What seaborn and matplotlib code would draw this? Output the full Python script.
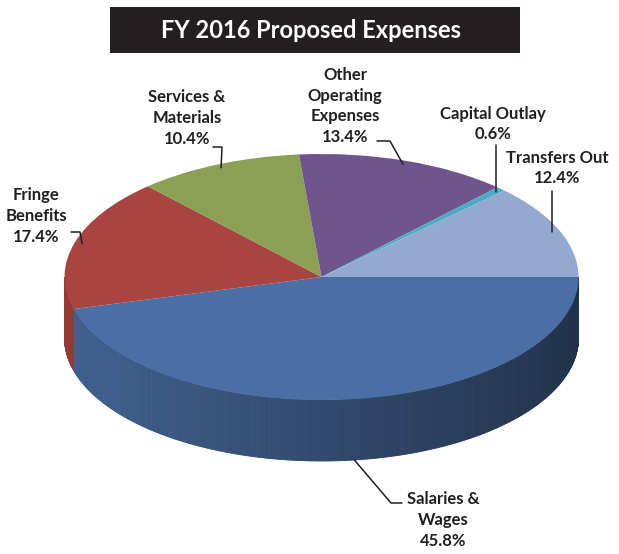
import numpy as np
import matplotlib
matplotlib.use("Agg")
import matplotlib.pyplot as plt
from matplotlib.patches import Rectangle
from matplotlib.colors import to_rgb
import seaborn as sns

# budget shares, clockwise from 3 o'clock
categories = ["Salaries &\nWages", "Fringe\nBenefits", "Services &\nMaterials",
              "Other\nOperating\nExpenses", "Capital Outlay", "Transfers Out"]
shares = [45.8, 17.4, 10.4, 13.4, 0.6, 12.4]
colors = ["#4a6fa5", "#a84442", "#8ba054", "#70558c", "#4bacc6", "#93a9cf"]
title = "FY 2016 Proposed Expenses"

# layout in pixels
W, H = 619, 554
cx, cy, rx, ry, depth = 321.5, 277, 257, 123, 61
# label centre, and leader line points (text end, elbow)
label_pos = [(443, 520), (36, 216), (187, 118), (345, 106), (493, 124), (557, 168)]
leader = [[(402, 503), (391, 503)], [(71, 232), (80, 232)], [(213, 147), (222, 147)],
          [(377, 141), (390, 141)], [(None, 145)], [(None, 191)]]

sns.set_theme(style="white")
plt.rcParams["font.family"] = ["Lato", "DejaVu Sans"]
ink = "#231f20"

fig = plt.figure(figsize=(W / 100, H / 100), dpi=100)
ax = fig.add_axes([0, 0, 1, 1])


def to_data(px, py):
    return (px - cx) / rx, (cy - py) / ry


wedges, _ = ax.pie(shares, colors=colors, startangle=0, counterclock=False,
                   radius=1, center=(0, 0), wedgeprops=dict(linewidth=0))
ax.set_aspect("auto")
ax.set_xlim(to_data(0, 0)[0], to_data(W, 0)[0])
ax.set_ylim(to_data(0, H)[1], to_data(0, 0)[1])
ax.axis("off")

dd = depth / ry

# side of the pie, shaded from left to right
for w, col in zip(wedges, colors):
    base = np.array(to_rgb(col))
    for shift in (-360, 0, 360):
        a = max(w.theta1 + shift, 180)
        b = min(w.theta2 + shift, 360)
        if b <= a:
            continue
        angs = np.radians(np.linspace(a, b, max(int((b - a) * 2), 2) + 1))
        for a0, a1 in zip(angs[:-1], angs[1:]):
            f = 0.66 - 0.21 * np.cos((a0 + a1) / 2)
            c = np.clip(base * f, 0, 1)
            xs = [np.cos(a0), np.cos(a1), np.cos(a1), np.cos(a0)]
            ys = [np.sin(a0), np.sin(a1), np.sin(a1) - dd, np.sin(a0) - dd]
            ax.fill(xs, ys, color=c, lw=0.6, ec=c, zorder=0.5)

# labels and leader lines
for i, (w, cat) in enumerate(zip(wedges, categories)):
    mid = np.radians((w.theta1 + w.theta2) / 2)
    ax_, ay_ = 0.97 * np.cos(mid), 0.97 * np.sin(mid)
    if np.sin(mid) < 0:
        ay_ = np.sin(mid) - dd
    pts = []
    for px, py in leader[i]:
        if px is None:
            px = cx + ax_ * rx
        pts.append(to_data(px, py))
    pts.append((ax_, ay_))
    xs, ys = zip(*pts)
    ax.plot(xs, ys, color=ink, lw=1.1, zorder=3)
    tx, ty = to_data(*label_pos[i])
    ax.text(tx, ty, f"{cat}\n{shares[i]:.1f}%", ha="center", va="center",
            fontsize=12, fontweight="bold", color=ink, linespacing=1.38, zorder=4)

# title box
fig.add_artist(Rectangle((110 / W, 1 - 53 / H), 410 / W, 46 / H,
                         transform=fig.transFigure, color=ink, lw=0))
fig.text(311 / W, 1 - 30 / H, title, ha="center", va="center", color="white",
         fontsize=17, fontweight="bold")

fig.savefig("out.png", dpi=100)
